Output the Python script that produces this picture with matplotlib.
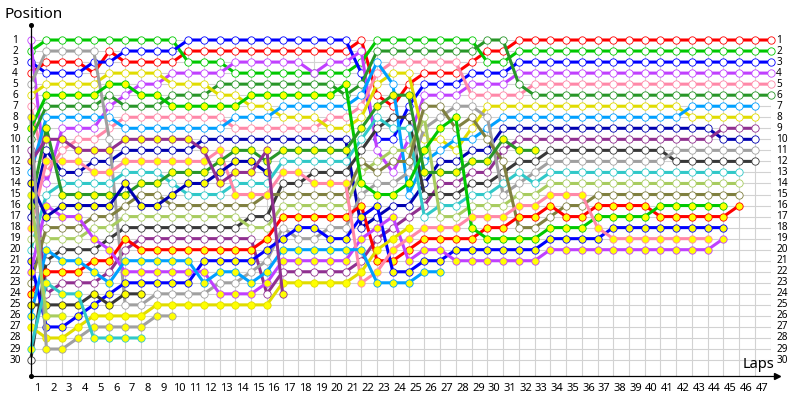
import matplotlib
matplotlib.use('Agg')
import matplotlib.pyplot as plt

# lap chart, every list is the position from the grid (lap 0) to the last lap
red_o = [4,3,3,3,4,2,3,3,3,3, 2,2,2,2,2,2,2,2,2,2, 2,1,6,7,5,4,4,4,3,2, 2,1,1,1,1,1,1,1,1,1, 1,1,1,1,1,1,1,1]
green_o = [2,1,1,1,1,1,1,1,1,1, 3,3,3,4,4,4,4,4,4,4, 4,3,1,1,1,1,1,1,1,3, 3,2,2,2,2,2,2,2,2,2, 2,2,2,2,2,2,2,2]
blue_o = [3,4,4,4,3,3,2,2,2,2, 1,1,1,1,1,1,1,1,1,1, 1,4,10,10,7,5,5,5,4,4, 4,3,3,3,3,3,3,3,3,3, 3,3,3,3,3,3,3,3]
purple_o = [1,14,9,9,9,7,6,5,5,4, 4,4,4,3,3,3,3,3,4,3, 3,2,11,13,10,6,6,6,5,5, 5,4,4,4,4,4,4,4,4,4, 4,4,4,4,4,4,4,4]
pink_o = [7,13,11,10,10,9,8,8,8,8, 8,8,8,9,9,9,9,9,9,8, 8,7,4,3,3,3,3,3,6,6, 6,6,5,5,5,5,5,5,5,5, 5,5,5,5,5,5,5,5]
dkgreen_o = [10,7,7,7,7,6,7,7,7,6, 6,6,5,5,5,5,5,5,5,5, 6,5,2,2,2,2,2,2,2,1, 1,5,6,6,6,6,6,6,6,6, 6,6,6,6,6,6,6,6]
yellow_o = [6,5,5,5,5,4,4,4,4,5, 5,5,6,6,7,7,8,8,8,9, 9,8,5,4,4,10,10,11,9,7, 7,7,7,7,7,7,7,7,7,7, 7,7,8,8,8,8,8]
dodger_o = [13,8,8,8,8,8,9,9,9,9, 9,9,9,8,8,8,7,7,7,7, 7,6,3,5,15,12,11,10,10,9, 8,8,8,8,8,8,8,8,8,8, 8,8,7,7,7,7,7]
dkblue_o = [17,11,13,13,12,12,11,11,11,11, 11,10,10,10,10,10,10,10,10,10, 10,18,17,16,16,14,12,12,11,11, 9,9,9,9,9,9,9,9,9,9, 9,9,9,9,10,10,10]
dkpurple_o = [11,24,23,23,23,22,20,19,19,19, 19,19,19,19,19,24,22,22,22,22, 22,21,19,18,17,16,14,14,13,13, 11,10,10,10,10,10,10,10,10,10, 10,10,10,10,9,9,9]
black_o = [30,21,20,20,20,19,18,18,18,18, 18,18,18,18,17,17,14,14,13,13, 13,11,9,8,8,15,15,15,14,14, 13,12,12,11,11,11,11,11,11,11, 11,12,12,12,12,12,12]
gray_o = [5,2,2,2,2,10,25,25,24,24, 24,24,23,23,22,21,18,19,19,18, 18,15,14,14,13,9,8,7,7,8, 15,14,13,12,12,12,12,12,12,12, 12,11,11,11,11,11,11]
cyan_o = [20,15,14,14,14,14,13,13,13,14, 15,15,15,14,14,14,12,12,12,12, 12,10,8,9,9,17,16,16,15,15, 14,13,14,13,13,13,13,13,13,13, 13,13,13,13,13,13]
lime_o = [19,19,19,19,18,18,17,17,17,17, 17,17,17,17,18,18,16,16,16,16, 16,13,12,11,11,8,17,17,16,16, 16,15,15,14,14,14,14,14,14,14, 14,14,14,14,14,14]
olive_o = [23,18,18,18,17,17,16,15,15,16, 16,16,16,16,16,15,15,15,15,15, 15,12,13,12,12,7,7,9,8,10, 12,18,18,17,16,16,15,15,15,15, 15,15,15,15,15,15]

red_f = [24,22,22,22,21,21,19,20,20,20, 20,20,20,20,20,19,17,17,17,17, 17,16,21,21,20,19,19,19,19,18, 18,17,17,16,17,17,16,16,16,16, 17,17,17,17,17,16]
green_f = [9,6,6,6,6,5,5,6,6,7, 7,7,7,7,6,6,6,6,6,6, 5,14,15,15,14,11,9,8,18,19, 19,19,19,18,18,18,17,17,17,17, 16,16,16,16,16]
blue_f = [21,27,27,26,25,24,23,23,23,23, 23,21,21,21,21,20,19,18,18,19, 19,17,16,22,22,21,21,20,20,20, 20,20,20,19,19,19,19,18,18,18, 18,18,18,18,18]
purple_f = [22,16,17,17,19,20,22,22,22,22, 22,22,24,24,24,23,21,21,21,21, 21,19,18,17,21,20,20,21,21,21, 21,21,21,20,20,20,20,20,20,20, 20,20,20,20,19]
pink_f = [18,12,12,12,13,13,12,12,12,12, 12,12,11,15,15,15,13,13,14,14, 14,23,22,20,19,18,18,18,17,17, 17,16,16,15,15,15,18,19,19,19, 19,19,19,19]
dkgreen_f = [16,9,15,15,15,15,15,14,14,13, 13,13,12,11,11,12,11,11,11,11, 11,9,7,6,6,13,13,13,12,12, 10,11,11]
yellow_f = [27,28,28,27,26,26,26,26,25,25, 25,25,25,25,25,25,23,23,23,23, 23,22,20,19,18]
dodger_f = [26,20,21,21,22,23,21,21,21,21, 21,23,22,22,23,22,20,20,20,20, 20,20,23,23,23,22,22]
dkblue_f = [14,17,16,16,16,16,14,16,16,15, 14,14,13,12,12,13]
dkpurple_f = [12,10,10,11,11,11,10,10,10,10, 10,11,14,13,13,11,24]
black_f = [25,25,25,25,24,25,24,24]
gray_f = [8,29,29,28,27,27,27,27,26,26]
cyan_f = [29,23,24,24,28,28,28,28]
lime_f = [15,26,26]

laps = list(range(1, 48))
positions = list(range(1, 31))

c_red = '#ff0000'
c_green = '#00c800'
c_blue = '#0000ff'
c_purple = '#c040ff'
c_pink = '#ff88a8'
c_dkgreen = '#289628'
c_yellow = '#e0dc00'
c_dodger = '#00a0ff'
c_dkblue = '#0000b0'
c_dkpurple = '#903090'
c_black = '#383838'
c_gray = '#a0a0a0'
c_cyan = '#30c8c8'
c_lime = '#a8cc60'
c_olive = '#808040'

open_series = [(red_o, c_red), (green_o, c_green), (blue_o, c_blue), (purple_o, c_purple),
               (pink_o, c_pink), (dkgreen_o, c_dkgreen), (yellow_o, c_yellow), (dodger_o, c_dodger),
               (dkblue_o, c_dkblue), (dkpurple_o, c_dkpurple), (black_o, c_black), (gray_o, c_gray),
               (cyan_o, c_cyan), (lime_o, c_lime), (olive_o, c_olive)]
filled_series = [(red_f, c_red), (green_f, c_green), (blue_f, c_blue), (purple_f, c_purple),
                 (pink_f, c_pink), (dkgreen_f, c_dkgreen), (yellow_f, c_yellow), (dodger_f, c_dodger),
                 (dkblue_f, c_dkblue), (dkpurple_f, c_dkpurple), (black_f, c_black), (gray_f, c_gray),
                 (cyan_f, c_cyan), (lime_f, c_lime)]

plt.rcParams['font.family'] = ['Noto Sans', 'DejaVu Sans']

fig = plt.figure(figsize=(8, 4), dpi=100)
# the axes box runs from lap 0 to lap 47 and from position 1 to the x axis line
ax = fig.add_axes([30.7 / 800, 24.5 / 400, 740 / 800, 335.5 / 400])
ax.set_xlim(0, 47)
ax.set_ylim(31.4, 1)
ax.axis('off')

# grid
for p in positions:
    ax.plot([0, 47], [p, p], color='#d2d2d2', lw=0.8, zorder=1)
for l in [0] + laps:
    ax.plot([l, l], [1, 31.4], color='#d2d2d2', lw=0.8, zorder=1)

# series, open markers first, the yellow ones over them
z = 2
for vals, col in open_series:
    ax.plot(range(len(vals)), vals, color=col, lw=2.2, marker='o', ms=5.3, mfc='white',
            mec=col, mew=0.6, zorder=z, clip_on=False, solid_joinstyle='round')
    z += 1
for vals, col in filled_series:
    ax.plot(range(len(vals)), vals, color=col, lw=2.2, marker='o', ms=5.3, mfc='#ffff00',
            mec=col, mew=0.6, zorder=z, clip_on=False, solid_joinstyle='round')
    z += 1

# axes lines with the small end marks
ax.plot([0, 0], [-0.35, 31.4], color='black', lw=0.9, zorder=50, clip_on=False)
ax.plot([0, 47.3], [31.4, 31.4], color='black', lw=0.9, zorder=50, clip_on=False)
ax.plot([0, 0], [-0.35, 31.4], ls='none', marker='o', ms=2.6, color='black', zorder=50, clip_on=False)
ax.plot([47.4], [31.4], ls='none', marker='>', ms=4, color='black', zorder=50, clip_on=False)

# labels
for p in positions:
    ax.text(-1, p, str(p), fontsize=7.2, ha='center', va='center', color='black', clip_on=False)
    ax.text(47.35, p, str(p), fontsize=7.2, ha='left', va='center', color='black', clip_on=False)
for l in laps:
    ax.text(l - 0.57, 32.55, str(l), fontsize=8, ha='center', va='center', color='black', clip_on=False)

fig.text(4 / 800, 1 - 15 / 400, 'Position', fontsize=11, ha='left', va='center', color='black')
fig.text(743 / 800, 1 - 365 / 400, 'Laps', fontsize=10.5, ha='left', va='center', color='black')

fig.savefig('out.png', dpi=100, facecolor='white')
